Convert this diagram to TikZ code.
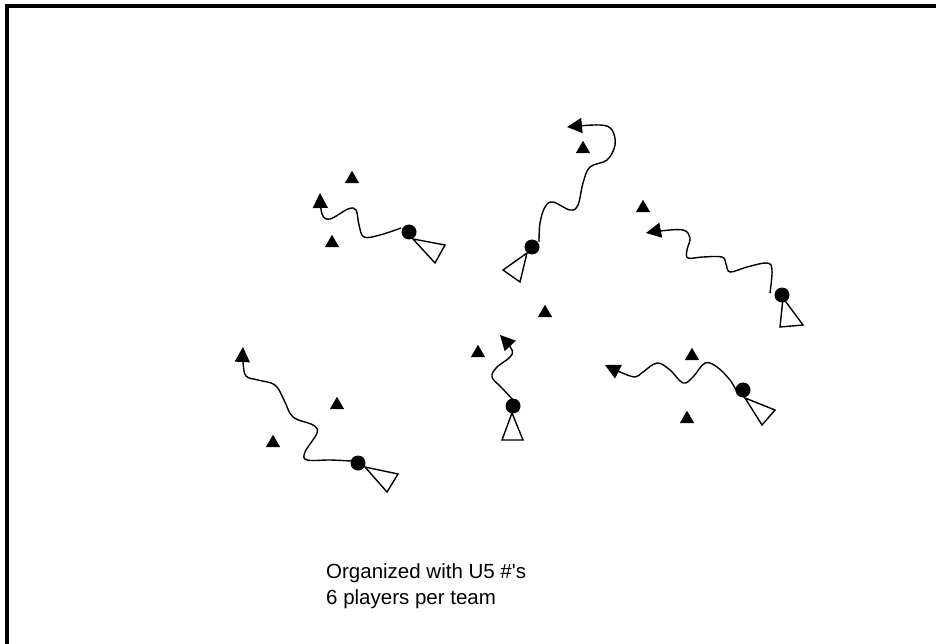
\documentclass[tikz,border=0pt]{standalone}
\usepackage{fontspec}
\setmainfont{Liberation Sans}
\usetikzlibrary{arrows.meta,shapes.geometric}
\tikzset{
  player/.style={circle,fill=black,draw=none,minimum size=15pt,inner sep=0pt},
  marker/.style={regular polygon,regular polygon sides=3,fill=black,draw=none,minimum size=16.5pt,inner sep=0pt},
  cone/.style={draw=black,line width=1.4pt,line join=miter,fill=white},
  run/.style={draw=black,line width=1.4pt,-{Triangle[length=15pt,width=15pt]}},
  frame/.style={draw=black,line width=4pt},
  caption/.style={font=\fontsize{20.5}{26}\selectfont,anchor=base west,inner sep=0pt}
}
\begin{document}
\begin{tikzpicture}[x=1pt,y=-1pt]
\useasboundingbox (0,0) rectangle (936,644);
\fill[white] (-6,-6) rectangle (942,650);
\draw[frame] (6.5,650) -- (6.5,6) -- (942,6);

% group 1 (upper left)
\draw[cone] (413,239) -- (445,245) -- (435,263) -- cycle;
\node[player] (p1) at (409,232) {};
\coordinate (a1) at (320,193);
\draw[run] plot[smooth,tension=0.6] coordinates {(401,228) (380,235) (364,237) (359,225) (356,210) (348,209) (330,219) (322,214) (a1)};
\node[marker] (m1a) at (352,179) {};
\node[marker] (m1b) at (332,243) {};

% group 2 (top middle)
\draw[cone] (527,253) -- (503,270) -- (520,282) -- cycle;
\node[player] (p2) at (532,247) {};
\coordinate (a2) at (567,127);
\draw[run] plot[smooth,tension=0.6] coordinates {(539,242) (540,223) (545,207) (553,202) (570,210) (578,205) (583,183) (590,167) (607,160) (615,145) (612,130) (600,125) (a2)};
\node[marker] (m2a) at (583,149) {};

% group 3 (right upper)
\draw[cone] (783,298) -- (780,327) -- (803,325) -- cycle;
\node[player] (p3) at (782,295) {};
\coordinate (a3) at (646,233);
\draw[run] plot[smooth,tension=0.6] coordinates {(770,293) (772,270) (767,263) (747,267) (730,272) (726,264) (722,257) (703,257) (688,258) (687,250) (690,238) (683,230) (660,231) (a3)};
\node[marker] (m3a) at (643,208) {};

% group 4 (lower left)
\draw[cone] (365,467) -- (398,474) -- (387,492) -- cycle;
\node[player] (p4) at (358,463) {};
\coordinate (a4) at (243,347);
\draw[run] plot[smooth,tension=0.6] coordinates {(351,461) (330,460) (307,460) (305,452) (317,433) (313,425) (293,417) (284,400) (275,385) (258,380) (246,376) (243,362) (a4)};
\node[marker] (m4a) at (337,405) {};
\node[marker] (m4b) at (273,443) {};

% group 5 (centre)
\draw[cone] (512,413) -- (502,440) -- (523,440) -- cycle;
\node[player] (p5) at (513,406) {};
\coordinate (a5) at (500,335);
\draw[run] plot[smooth,tension=0.6] coordinates {(513,400) (502,388) (492,377) (497,367) (509,358) (512,350) (a5)};
\node[marker] (m5a) at (545,313) {};
\node[marker] (m5b) at (478,353) {};

% group 6 (right lower)
\draw[cone] (745,398) -- (775,410) -- (762,425) -- cycle;
\node[player] (p6) at (743,390) {};
\coordinate (a6) at (605,365);
\draw[run] plot[smooth,tension=0.6] coordinates {(737,392) (730,380) (717,367) (705,363) (693,377) (683,383) (670,370) (657,363) (643,372) (635,377) (620,372) (a6)};
\node[marker] (m6a) at (692,356) {};
\node[marker] (m6b) at (687,419) {};

% caption
\node[caption] (t1) at (326,578) {Organized with U5 \#\textquotesingle s};
\node[caption] (t2) at (326,604) {6 players per team};
\end{tikzpicture}
\end{document}
